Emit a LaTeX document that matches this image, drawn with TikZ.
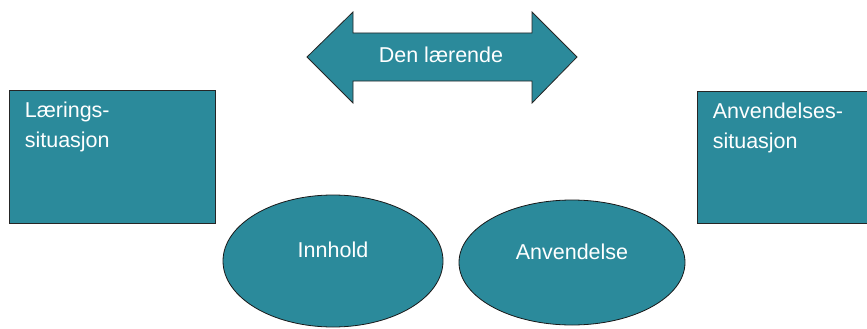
\documentclass[tikz,border=0pt]{standalone}
\usepackage{fontspec}
\setmainfont{Liberation Sans}
\usetikzlibrary{shapes.geometric,positioning}
\definecolor{teal1}{RGB}{43,138,155}

\begin{document}
\begin{tikzpicture}[x=1pt,y=-1pt,
  box/.style={rectangle,draw=black!85,fill=teal1,line width=0.8pt,inner sep=0pt},
  blob/.style={ellipse,draw=black!90,fill=teal1,line width=0.8pt,inner sep=0pt},
  txt/.style={text=white,font=\fontsize{21.5}{30}\selectfont,inner sep=0pt,align=left}]
   \useasboundingbox (0,0) rectangle (867,329);
   \node[box,minimum width=206pt,minimum height=133pt] (laering) at (112,156.5) {};
   \node[box,minimum width=180pt,minimum height=132pt] (anvsit) at (787,157) {};
   \node[txt,anchor=north west] (laering_t) at ([shift={(16,12.5)}]laering.north west) {Lærings-\\situasjon};
   \node[txt,anchor=north west] (anvsit_t) at ([shift={(16,12.5)}]anvsit.north west) {Anvendelses-\\situasjon};
   \node[blob,minimum width=220pt,minimum height=132pt] (innhold) at (333,261) {};
   \node[blob,minimum width=226pt,minimum height=125pt] (anvendelse) at (572,262.5) {};
   \node[txt] (innhold_t) at ([yshift=11.5pt]innhold.center) {Innhold};
   \node[txt] (anvendelse_t) at ([yshift=10.5pt]anvendelse.center) {Anvendelse};
   % double arrow
   \draw[draw=black!85,fill=teal1,line width=0.8pt]
     (307,57) -- (353,12) -- (353,33) -- (532,33) -- (532,12) -- (577,57)
     -- (532,103) -- (532,81) -- (353,81) -- (353,103) -- cycle;
   \node[txt] (laerende) at (441,55) {Den lærende};
\end{tikzpicture}
\end{document}
